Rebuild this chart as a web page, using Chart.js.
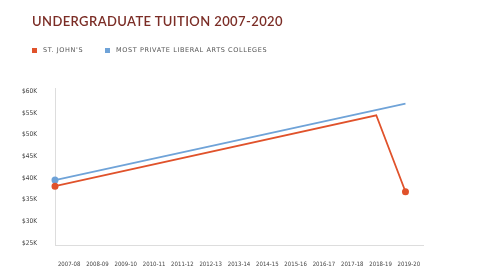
<!DOCTYPE html>
<html>
<head>
<meta charset="utf-8">
<script src="https://cdn.jsdelivr.net/npm/chart.js@4/dist/chart.umd.min.js"></script>
<style>
    html, body { margin: 0; padding: 0; background: #fff; }
    #wrap { position: relative; width: 480px; height: 279px; overflow: hidden; }
    #chart { position: absolute; left: 0; top: 0; }
    .title {
        position: absolute; left: 32px; top: 13px;
        font-family: Lato, 'Noto Sans', sans-serif; font-size: 13px; font-weight: 600;
        letter-spacing: 0.4px; color: #7b2d26; white-space: nowrap;
    }
    .legend {
        position: absolute; top: 46px; font-family: 'DejaVu Sans', sans-serif;
        font-size: 6.5px; letter-spacing: 0.6px; color: #555; white-space: nowrap;
    }
    .legend i { display: inline-block; width: 5px; height: 5px; margin-right: 6px; vertical-align: -0.5px; }
</style>
</head>
<body>
<div id="wrap">
    <canvas id="chart" width="480" height="279"></canvas>
    <div class="title">UNDERGRADUATE TUITION 2007-2020</div>
    <div class="legend" style="left:32px"><i style="background:#e0522b"></i>ST. JOHN'S</div>
    <div class="legend" style="left:105px"><i style="background:#6fa3d8"></i>MOST PRIVATE LIBERAL ARTS COLLEGES</div>
</div>
<script>
    // Années scolaires (axe X)
    const years = ['2007-08', '2008-09', '2009-10', '2010-11', '2011-12', '2012-13', '2013-14',
        '2014-15', '2015-16', '2016-17', '2017-18', '2018-19', '2019-20'];

    // Frais de scolarité en milliers de $ (seuls les points)
    const stJohnsIdx = [0, 11, 12];
    const stJohnsVals = [38.1, 54.5, 36.8];
    const privateIdx = [0, 12];
    const privateVals = [39.5, 57.2];

    const yTicks = [25, 30, 35, 40, 45, 50, 55, 60];

    const toPoints = (idx, vals) => idx.map((x, i) => ({ x: x, y: vals[i] }));
    const tickFont = { family: "'Liberation Sans Narrow', 'DejaVu Sans Condensed', 'Liberation Sans', sans-serif", size: 6 };

    new Chart(document.getElementById('chart'), {
        type: 'line',
        data: {
            labels: years,
            datasets: [{
                label: "ST. JOHN'S",
                data: toPoints(stJohnsIdx, stJohnsVals),
                borderColor: '#e0522b',
                backgroundColor: '#e0522b',
                borderWidth: 1.8,
                pointRadius: [2.6, 0, 2.6],
                clip: false,
                xAxisID: 'x'
            }, {
                label: 'MOST PRIVATE LIBERAL ARTS COLLEGES',
                data: toPoints(privateIdx, privateVals),
                borderColor: '#6fa3d8',
                backgroundColor: '#6fa3d8',
                borderWidth: 1.8,
                pointRadius: [2.6, 0],
                clip: false,
                xAxisID: 'x'
            }]
        },
        options: {
            responsive: false,
            animation: false,
            events: [],
            layout: { padding: { top: 88, right: 57, left: 10, bottom: 0 } },
            plugins: { legend: { display: false }, tooltip: { enabled: false } },
            scales: {
                x: {
                    type: 'linear', display: false, min: 0, max: 12.6
                },
                xl: {
                    type: 'category', position: 'bottom', offset: true,
                    afterFit: (s) => { s.height = 34; },
                    grid: { display: false },
                    border: { display: true, color: '#ddd', width: 1 },
                    ticks: {
                        padding: 8, maxRotation: 0, autoSkip: false,
                        color: '#444', font: tickFont
                    }
                },
                y: {
                    min: 24.5, max: 60.8,
                    afterFit: (s) => { s.width = 45; },
                    afterBuildTicks: (s) => { s.ticks = yTicks.map(v => ({ value: v })); },
                    grid: { display: false },
                    border: { display: true, color: '#ddd', width: 1 },
                    ticks: {
                        padding: 10,
                        color: '#444',
                        font: { family: tickFont.family, size: 6.5 },
                        callback: (v) => '$' + v + 'K'
                    }
                }
            }
        }
    });
</script>
</body>
</html>
